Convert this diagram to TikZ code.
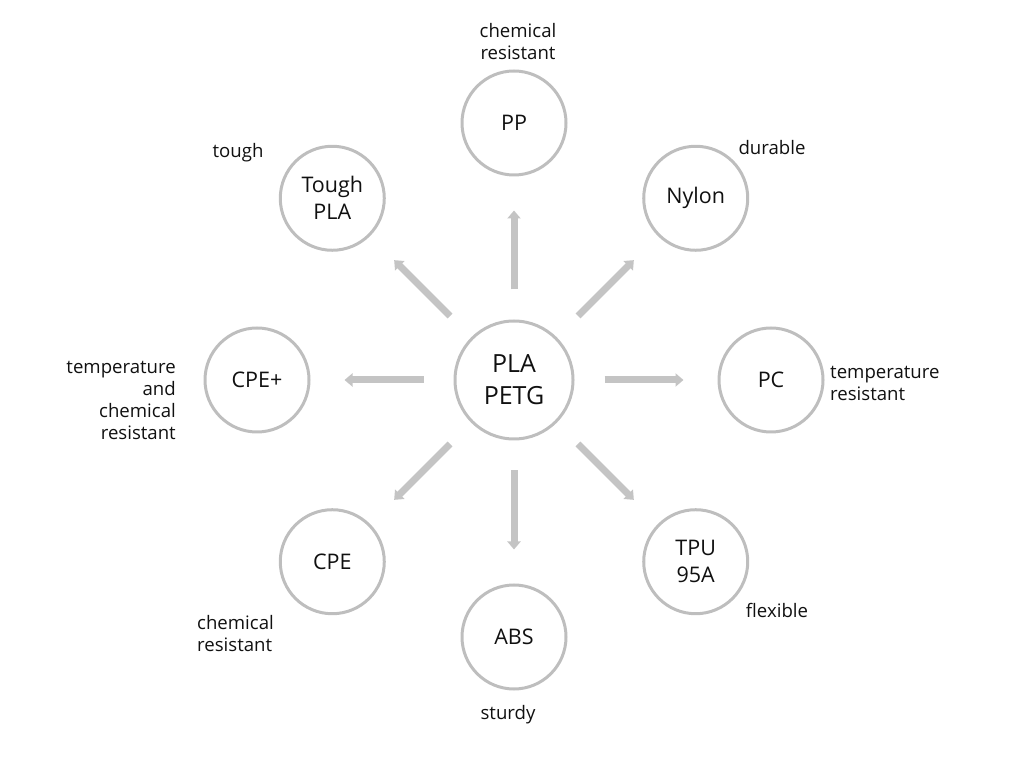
\documentclass[tikz,border=0pt]{standalone}
\usepackage{fontspec}
\setmainfont{Open Sans}
\usepackage{tikz}
\usetikzlibrary{arrows.meta, positioning, calc}
\definecolor{ringgray}{HTML}{BEBEBE}
\definecolor{spokegray}{HTML}{C4C4C4}
\definecolor{inkdark}{HTML}{101010}

\begin{document}
\begin{tikzpicture}[x=1pt, y=1pt,
    hub/.style={circle, draw=ringgray, line width=3pt, minimum size=118pt, inner sep=0pt,
      align=center, text=inkdark, font=\fontsize{25}{32}\selectfont},
    material/.style={circle, draw=ringgray, line width=3pt, minimum size=104pt, inner sep=0pt,
      align=center, text=inkdark, font=\fontsize{21.5}{27}\selectfont},
    note/.style={text=inkdark, inner sep=0pt, font=\fontsize{18.6}{22}\selectfont},
    spoke/.style={spokegray, line width=7pt, -{Triangle[width=13pt,length=8pt]},
      shorten <=30pt, shorten >=34pt}]
    \useasboundingbox (0,0) rectangle (1024,768);
    % centre filament
    \node[hub] (hub) at (514,388) {PLA\\PETG};
    % ring of materials, one spoke each
    \foreach \ang/\nm/\txt in {90/pp/PP, 45/nylon/Nylon, 0/pc/PC, -45/tpu/{TPU\\95A},
        -90/abs/ABS, -135/cpe/CPE, 180/cpeplus/CPE+, 135/tough/{Tough\\PLA}} {
      \node[material] (\nm) at ($(hub)+(\ang:257)$) {\txt};
      \draw[spoke] (hub) -- (\nm);
    }
    % property notes
    \node[note, align=center] (ppnote) at (518,726) {chemical\\resistant};
    \node[note] (toughnote) at (238,615) {tough};
    \node[note] (nylonnote) at (772,620) {durable};
    \node[note, align=right, anchor=east] (cpeplusnote) at (176,368) {temperature\\and\\chemical\\resistant};
    \node[note, align=left, anchor=west] (pcnote) at (830,385) {temperature\\resistant};
    \node[note] (tpunote) at (777,158) {flexible};
    \node[note, align=left, anchor=west] (cpenote) at (197,134) {chemical\\resistant};
    \node[note] (absnote) at (508,53) {sturdy};
  \end{tikzpicture}
\end{document}
